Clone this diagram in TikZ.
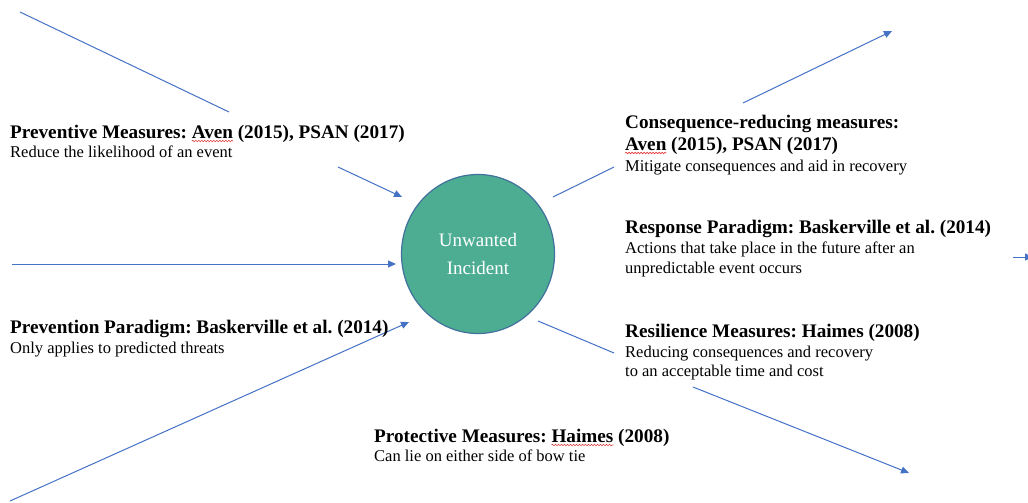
\documentclass[tikz,border=0pt]{standalone}
\usepackage{fontspec}
\setmainfont{Liberation Serif}
\usetikzlibrary{arrows.meta,shapes.geometric,decorations.pathmorphing}
\definecolor{lineblue}{HTML}{4472C4}
\definecolor{incidentfill}{HTML}{4DAD92}
\definecolor{rimblue}{HTML}{41719C}
\definecolor{spellred}{HTML}{E23B3B}
\frenchspacing
% wavy red mark under a word
\newcommand\spellmark[1]{\setbox0\hbox{#1}\rlap{\tikz[overlay,baseline=0pt]\draw[squig] (0pt,-3pt) -- (\the\wd0,-3pt);}#1}
\begin{document}
\begin{tikzpicture}[x=1pt,y=-1pt,
  link/.style={lineblue, line width=1pt},
  arr/.style={link, -{Triangle[length=8pt,width=7pt]}},
  title/.style={anchor=base west, inner sep=0pt, font=\fontsize{19.2}{20}\selectfont\bfseries},
  body/.style={anchor=base west, inner sep=0pt, font=\fontsize{16.5}{20}\selectfont},
  squig/.style={spellred, line width=0.6pt, decorate,
    decoration={snake, amplitude=0.8pt, segment length=3pt}}]
\useasboundingbox (0,0) rectangle (1028,503);
\clip (0,0) rectangle (1028,503);

% central event
\node[ellipse, draw=rimblue, line width=1.2pt, fill=incidentfill,
  minimum width=153pt, minimum height=159pt, inner sep=0pt,
  text=white, align=center, font=\fontsize{19}{28}\selectfont]
  (incident) at (478,254) {Unwanted\\Incident};

% left side: barriers before the event
\coordinate (tlA) at (20,12);   \coordinate (tlB) at (229,112);
\coordinate (plA) at (338,167); \coordinate (plB) at (402,197);
\coordinate (mlA) at (12,264);  \coordinate (mlB) at (396,264);
\coordinate (llA) at (10,501);  \coordinate (llB) at (409,322);
\draw[link] (tlA) -- (tlB);
\draw[arr] (plA) -- (plB);
\draw[arr] (mlA) -- (mlB);
\draw[arr] (llA) -- (llB);

% right side: barriers after the event
\coordinate (urA) at (553,197); \coordinate (urB) at (614,167);
\coordinate (trA) at (743,103); \coordinate (trB) at (892,31);
\coordinate (erA) at (1013,257); \coordinate (erB) at (1033,257);
\coordinate (lrA) at (538,321); \coordinate (lrB) at (614,353);
\coordinate (brA) at (693,387); \coordinate (brB) at (909,473);
\draw[link] (urA) -- (urB);
\draw[arr] (trA) -- (trB);
\draw[arr] (erA) -- (erB);
\draw[link] (lrA) -- (lrB);
\draw[arr] (brA) -- (brB);

% labels
\node[title] (prevT) at (10,138) {Preventive Measures: \spellmark{Aven} (2015), PSAN (2017)};
\node[body]  (prevB) at (10,157) {Reduce the likelihood of an event};

\node[title] (consT1) at (625,128) {Consequence-reducing measures:};
\node[title] (consT2) at (625,150) {\spellmark{Aven} (2015), PSAN (2017)};
\node[body]  (consB)  at (625,171) {Mitigate consequences and aid in recovery};

\node[title] (respT)  at (625,233) {Response Paradigm: Baskerville et al. (2014)};
\node[body]  (respB1) at (625,253) {Actions that take place in the future after an};
\node[body]  (respB2) at (625,273) {unpredictable event occurs};

\node[title] (resT)  at (625,337) {Resilience Measures: Haimes (2008)};
\node[body]  (resB1) at (625,357) {Reducing consequences and recovery};
\node[body]  (resB2) at (625,376) {to an acceptable time and cost};

\node[title] (parT) at (10,333) {Prevention Paradigm: Baskerville et al. (2014)};
\node[body]  (parB) at (10,353) {Only applies to predicted threats};

\node[title] (protT) at (374,442) {Protective Measures: \spellmark{Haimes} (2008)};
\node[body]  (protB) at (374,461) {Can lie on either side of bow tie};
\end{tikzpicture}
\end{document}
